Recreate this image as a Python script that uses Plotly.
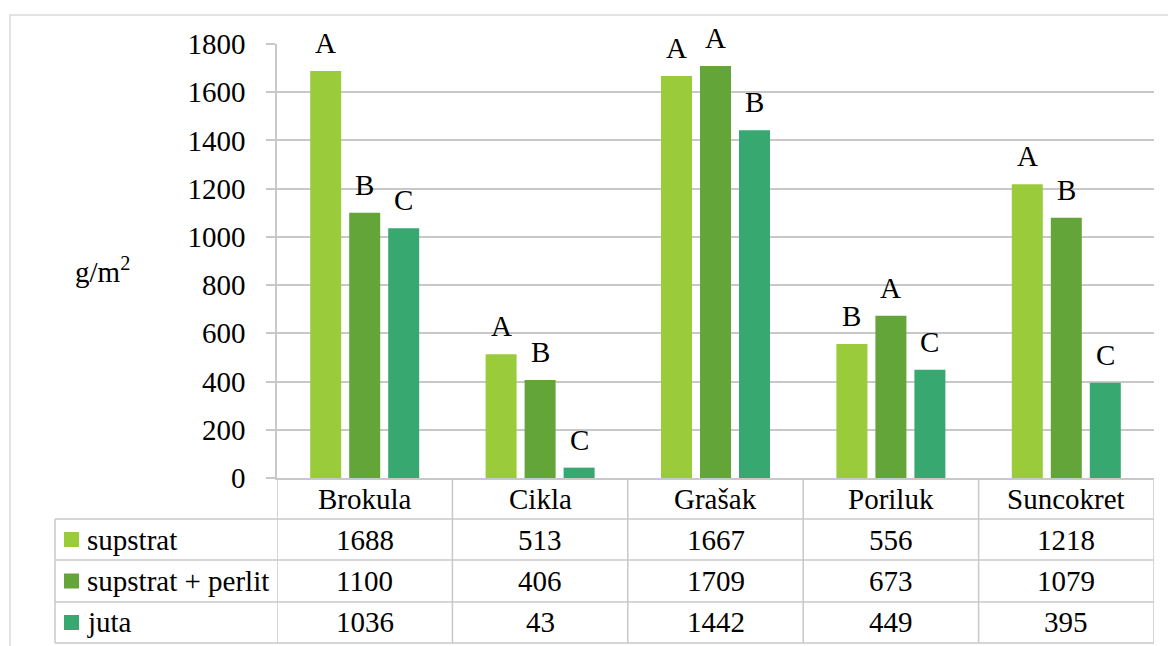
import plotly.graph_objects as go

categories = ["Brokula", "Cikla", "Grašak", "Poriluk", "Suncokret"]
series_names = ["supstrat", "supstrat + perlit", "juta"]
supstrat = [1688, 513, 1667, 556, 1218]
supstrat_perlit = [1100, 406, 1709, 673, 1079]
juta = [1036, 43, 1442, 449, 395]
letters_supstrat = ["A", "A", "A", "B", "A"]
letters_perlit = ["B", "B", "A", "A", "B"]
letters_juta = ["C", "C", "B", "C", "C"]
y_ticks = [0, 200, 400, 600, 800, 1000, 1200, 1400, 1600, 1800]
y_label = "g/m<sup>2</sup>"

colors = ["#9ACB3A", "#63A539", "#37A870"]
grid = "#C8C8C8"
FONT = "Liberation Serif, Times New Roman, serif"
FS = 29

W, H = 1168, 646
L, R, T, B = 277, 14, 44, 168
PW = W - L - R
PH = H - T - B


def px_y(Y):
    return (H - B - Y) / PH


def px_x(X):
    return (X - L) / PW


values = [supstrat, supstrat_perlit, juta]
letters = [letters_supstrat, letters_perlit, letters_juta]

fig = go.Figure()
for name, vals, col in zip(series_names, values, colors):
    fig.add_trace(go.Bar(x=categories, y=vals, name=name, marker=dict(color=col, line=dict(width=0)),
                         showlegend=False))

annotations = []
shapes = []

# significance letters
pitch = PW / len(categories) * (1 - 0.333) / 3
for i, (vals, lets) in enumerate(zip(values, letters)):
    for c, v, t in zip(categories, vals, lets):
        annotations.append(dict(x=c, y=v, xref="x", yref="y", text=t, showarrow=False,
                                yanchor="bottom", xanchor="center", xshift=(i - 1) * pitch, yshift=10,
                                font=dict(family=FONT, size=FS, color="black")))

# table rows
row_lines = [519, 560, 602, 643]
row_centers = [(478 + 519) / 2, (519 + 560) / 2, (560 + 602) / 2, (602 + 643) / 2]

# category labels
for c in categories:
    annotations.append(dict(x=c, y=px_y(row_centers[0]), xref="x", yref="paper", text=c, showarrow=False,
                            xanchor="center", yanchor="middle", font=dict(family=FONT, size=FS, color="black")))

# values in table
for r, (name, vals, col) in enumerate(zip(series_names, values, colors)):
    yc = px_y(row_centers[r + 1])
    for c, v in zip(categories, vals):
        annotations.append(dict(x=c, y=yc, xref="x", yref="paper", text=str(v), showarrow=False,
                                xanchor="center", yanchor="middle", font=dict(family=FONT, size=FS, color="black")))
    annotations.append(dict(x=px_x(85), y=yc, xref="paper", yref="paper", text=name, showarrow=False,
                            xanchor="left", yanchor="middle", font=dict(family=FONT, size=FS, color="black")))
    half = 7.5 / PH
    shapes.append(dict(type="rect", xref="paper", yref="paper", x0=px_x(64), x1=px_x(79),
                       y0=yc - half, y1=yc + half, fillcolor=col, line=dict(width=0)))

# horizontal table lines
for Y in row_lines:
    shapes.append(dict(type="line", xref="paper", yref="paper", x0=px_x(55), x1=1, y0=px_y(Y), y1=px_y(Y),
                       line=dict(color=grid, width=1.5)))
# left edge of table
shapes.append(dict(type="line", xref="paper", yref="paper", x0=px_x(55), x1=px_x(55),
                   y0=px_y(519), y1=px_y(643), line=dict(color=grid, width=1.5)))
# category boundaries in table
for i in range(len(categories) + 1):
    shapes.append(dict(type="line", xref="x", yref="paper", x0=i - 0.5, x1=i - 0.5,
                       y0=0, y1=px_y(643), line=dict(color=grid, width=1.5)))

# outer chart border
shapes.append(dict(type="rect", xref="paper", yref="paper", x0=px_x(10), x1=px_x(1175),
                   y0=px_y(655), y1=px_y(15), line=dict(color="#D9D9D9", width=1.5), layer="below"))

# y axis title
annotations.append(dict(x=px_x(102), y=px_y(270), xref="paper", yref="paper", text=y_label, showarrow=False,
                        xanchor="center", yanchor="middle", font=dict(family=FONT, size=FS, color="black")))

fig.update_layout(
    width=W, height=H,
    margin=dict(l=L, r=R, t=T, b=B, pad=0),
    paper_bgcolor="white", plot_bgcolor="white",
    barmode="group", bargap=0.333, bargroupgap=0.205,
    font=dict(family=FONT, size=FS, color="black"),
    annotations=annotations, shapes=shapes,
    xaxis=dict(showticklabels=False, showgrid=False, showline=True, linecolor=grid, linewidth=1.5,
               ticks="", zeroline=False, range=[-0.5, len(categories) - 0.5]),
    yaxis=dict(range=[0, 1800], tickvals=y_ticks, showgrid=True, gridcolor=grid, gridwidth=1.5,
               showline=True, linecolor=grid, linewidth=1.5, ticks="outside", ticklen=9,
               tickcolor=grid, tickwidth=1.5, zeroline=False,
               tickfont=dict(family=FONT, size=FS, color="black"), ticklabelstandoff=15),
)

fig.write_html("out.html", config={"displayModeBar": False},
               post_script="document.body.style.margin='0';document.body.style.overflow='hidden';")
